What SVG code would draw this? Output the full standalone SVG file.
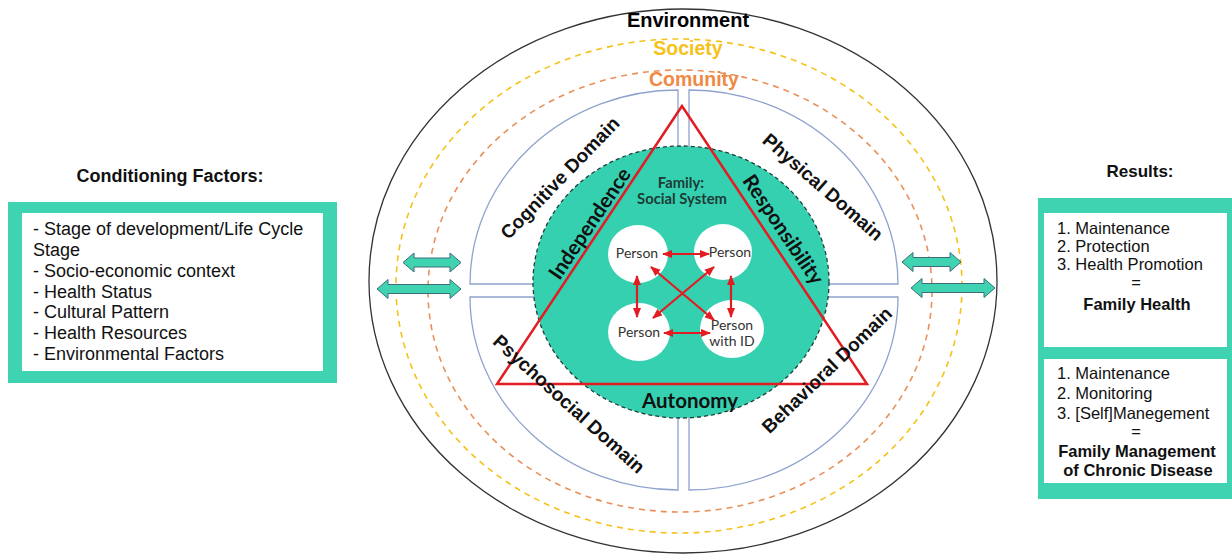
<svg xmlns="http://www.w3.org/2000/svg" width="1232" height="554" viewBox="0 0 1232 554">
<style>
.ar{font-family:"Liberation Sans",Arial,sans-serif;}
.b{font-weight:bold;}
.lato{font-family:Lato,"Open Sans",sans-serif;}
.quad{fill:#fff;stroke:#8fa3cc;stroke-width:1.3;}
.dbl{fill:#3fd3b2;stroke:#3d6d78;stroke-width:1;}
.rl{stroke:#e31b23;stroke-width:2.2;fill:none;marker-start:url(#ah);marker-end:url(#ah);}
.dom{font-family:"Liberation Sans",Arial,sans-serif;font-weight:bold;font-size:19px;fill:#111;text-anchor:middle;dominant-baseline:central;}
.tri{font-family:Lato,"Open Sans",sans-serif;font-weight:bold;font-size:20.5px;fill:#111;text-anchor:middle;dominant-baseline:central;}
.per{font-family:Lato,"Open Sans",sans-serif;font-size:14px;fill:#333;text-anchor:middle;}
.lst{font-family:"Liberation Sans",Arial,sans-serif;font-size:18px;fill:#111;}
.rst{font-family:"Liberation Sans",Arial,sans-serif;font-size:16.5px;fill:#111;}
</style>
<defs>
<marker id="ah" viewBox="0 0 10 10" refX="9" refY="5" markerWidth="4.6" markerHeight="4.6" orient="auto-start-reverse">
<path d="M0,1 L10,5 L0,9 z" fill="#e31b23"/>
</marker>
</defs>
<rect width="1232" height="554" fill="#fff"/>

<g id="environment">
<ellipse cx="683" cy="281" rx="314" ry="272" fill="none" stroke="#333" stroke-width="1.3"/>
<text x="688" y="27" class="ar b" font-size="20" text-anchor="middle" fill="#000">Environment</text>
</g>
<g id="society">
<ellipse cx="679" cy="286" rx="283" ry="247" fill="none" stroke="#f5c21b" stroke-width="1.6" stroke-dasharray="6 5"/>
<text x="688" y="55" class="ar b" font-size="19.5" text-anchor="middle" fill="#f5c21b">Society</text>
</g>
<g id="community">
<ellipse cx="680" cy="291" rx="252" ry="221" fill="none" stroke="#e9905a" stroke-width="1.6" stroke-dasharray="6 5"/>
<text x="694" y="86" class="ar b" font-size="19.5" text-anchor="middle" fill="#ee8a45">Comunity</text>
</g>

<g id="quad-cognitive">
<path class="quad" d="M678,90 A208,194 0 0 0 470,284 L678,284 Z"/>
</g>
<g id="quad-physical">
<path class="quad" d="M689,90 A209,194 0 0 1 898,284 L689,284 Z"/>
</g>
<g id="quad-psychosocial">
<path class="quad" d="M678,297 L470,297 A208,193 0 0 0 678,490 Z"/>
</g>
<g id="quad-behavioral">
<path class="quad" d="M689,297 L898,297 A209,193 0 0 1 689,490 Z"/>
</g>

<g id="family">
<ellipse cx="681" cy="282" rx="148" ry="136" fill="#35d0b0" stroke="#1e3f3a" stroke-width="1.3" stroke-dasharray="4 3"/>
<text x="681" y="188" class="lato b" font-size="14.8" text-anchor="middle" fill="#1d3b36">Family:</text>
<text x="682" y="204" class="lato b" font-size="14.8" text-anchor="middle" fill="#1d3b36">Social System</text>
</g>

<g id="triangle">
<polygon points="682,106 497,384 867,384" fill="none" stroke="#e31b23" stroke-width="2.5" stroke-linejoin="miter"/>
<text class="tri" transform="translate(589,223) rotate(-56)">Independence</text>
<text class="tri" transform="translate(784,229) rotate(56)">Responsibility</text>
<text class="tri" x="690" y="400">Autonomy</text>
</g>

<g id="person1">
<ellipse cx="638" cy="254" rx="30" ry="29" fill="#fff"/>
<text class="per" x="637" y="258">Person</text>
</g>
<g id="person2">
<ellipse cx="723" cy="252" rx="29" ry="28" fill="#fff"/>
<text class="per" x="730" y="257">Person</text>
</g>
<g id="person3">
<ellipse cx="639" cy="332" rx="31" ry="29" fill="#fff"/>
<text class="per" x="639" y="337">Person</text>
</g>
<g id="person-id">
<ellipse cx="732" cy="329" rx="32" ry="29" fill="#fff"/>
<text class="per" x="732" y="330">Person</text>
<text class="per" x="732" y="346">with ID</text>
</g>

<g id="domain-labels">
<text class="dom" transform="translate(560,178) rotate(-46)">Cognitive Domain</text>
<text class="dom" transform="translate(823,187) rotate(41)">Physical Domain</text>
<text class="dom" transform="translate(569,404) rotate(42)">Psychosocial Domain</text>
<text class="dom" transform="translate(827,370) rotate(-44)">Behavioral Domain</text>
</g>

<g id="connectors">
<line class="rl" x1="663" y1="254" x2="709" y2="254"/>
<line class="rl" x1="664" y1="333" x2="710" y2="333"/>
<line class="rl" x1="637" y1="276" x2="637" y2="317"/>
<line class="rl" x1="731" y1="276" x2="731" y2="317"/>
<line class="rl" x1="651" y1="267" x2="714" y2="320"/>
<line class="rl" x1="714" y1="267" x2="653" y2="318"/>
<polygon class="dbl" points="403,262.5 414,253 414,258 450,258 450,253 461,262.5 450,272 450,267 414,267 414,272"/>
<polygon class="dbl" points="377,289 388,279.5 388,284.5 450,284.5 450,279.5 461,289 450,298.5 450,293.5 388,293.5 388,298.5"/>
<polygon class="dbl" points="902,262 913,252.5 913,257.5 950,257.5 950,252.5 961,262 950,271.5 950,266.5 913,266.5 913,271.5"/>
<polygon class="dbl" points="911,288 922,278.5 922,283.5 984,283.5 984,278.5 995,288 984,297.5 984,292.5 922,292.5 922,297.5"/>
</g>

<g id="conditioning-factors">
<text x="170" y="182" class="ar b" font-size="18" text-anchor="middle" fill="#111">Conditioning Factors:</text>
<rect x="8" y="202" width="329" height="181" fill="#3fd3b2"/>
<rect x="22" y="213" width="301" height="158" fill="#fff"/>
<text class="lst" x="33" y="235">- Stage of development/Life Cycle</text>
<text class="lst" x="33" y="256">Stage</text>
<text class="lst" x="33" y="277">- Socio-economic context</text>
<text class="lst" x="33" y="298">- Health Status</text>
<text class="lst" x="33" y="318">- Cultural Pattern</text>
<text class="lst" x="33" y="339">- Health Resources</text>
<text class="lst" x="33" y="360">- Environmental Factors</text>
</g>

<g id="results">
<text x="1140" y="177" class="ar b" font-size="17" text-anchor="middle" fill="#111">Results:</text>
<rect x="1038" y="198" width="194" height="301" fill="#3fd3b2"/>
<rect x="1044" y="213" width="183" height="134" fill="#fff"/>
<rect x="1044" y="359" width="183" height="124" fill="#fff"/>
<text class="rst" x="1057" y="234">1. Maintenance</text>
<text class="rst" x="1057" y="252">2. Protection</text>
<text class="rst" x="1057" y="270">3. Health Promotion</text>
<text class="rst" x="1136" y="288" text-anchor="middle">=</text>
<text class="rst b" x="1137" y="310" text-anchor="middle" font-size="17">Family Health</text>
<text class="rst" x="1057" y="379">1. Maintenance</text>
<text class="rst" x="1057" y="399">2. Monitoring</text>
<text class="rst" x="1057" y="419">3. [Self]Manegement</text>
<text class="rst" x="1136" y="437" text-anchor="middle">=</text>
<text class="rst b" x="1137" y="457" text-anchor="middle" font-size="17">Family Management</text>
<text class="rst b" x="1138" y="476" text-anchor="middle" font-size="17">of Chronic Disease</text>
</g>
</svg>
